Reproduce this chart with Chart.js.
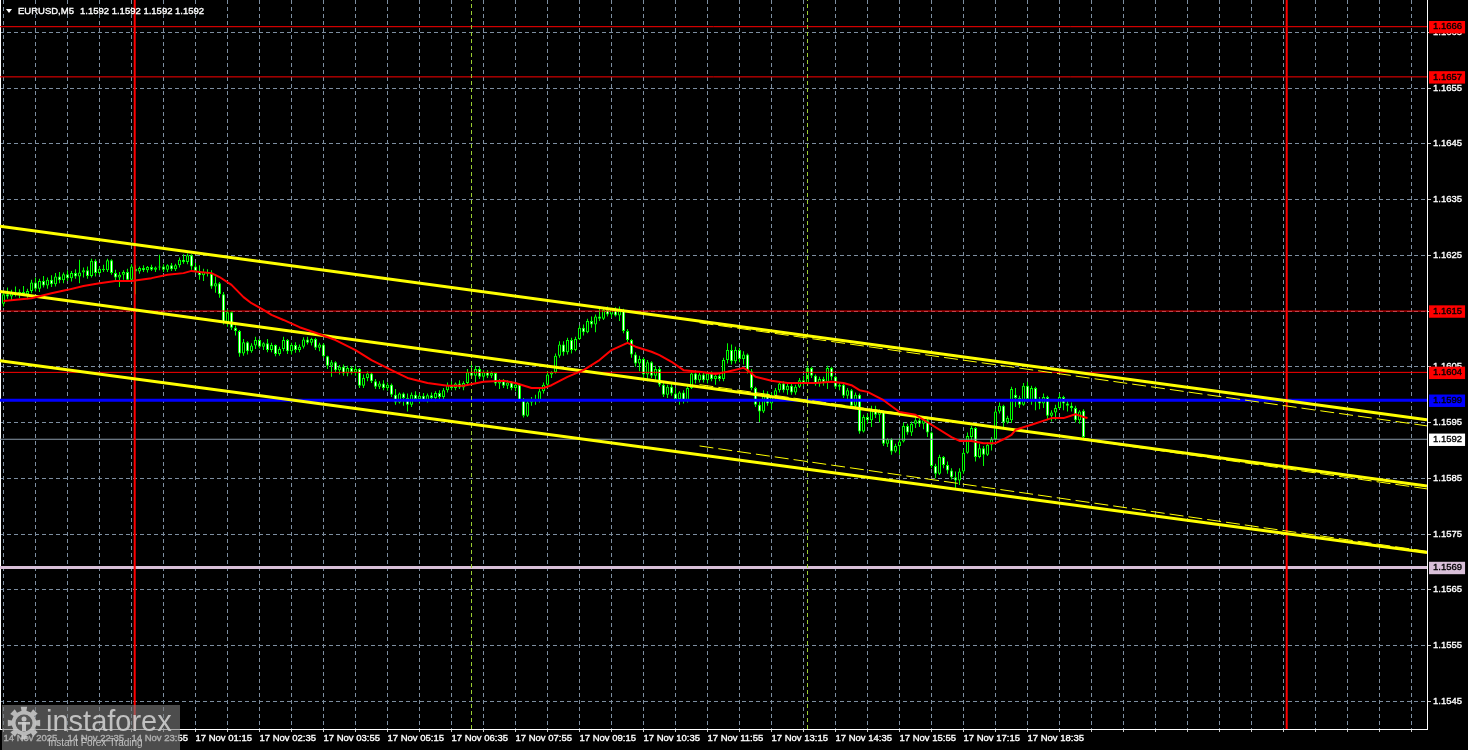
<!DOCTYPE html>
<html>
<head>
<meta charset="utf-8">
<style>html,body{margin:0;padding:0;background:#000;overflow:hidden}canvas{display:block}</style>
<script src="https://cdn.jsdelivr.net/npm/chart.js@4.4.1/dist/chart.umd.min.js"></script>
</head>
<body>
<canvas id="c" width="1468" height="750"></canvas>
<script>
// ---------------- data ----------------
const symbolTitle = "EURUSD,M5";
const lastQuote = ["1.1592", "1.1592", "1.1592", "1.1592"];

const xTickLabels = ["14 Nov 2025", "14 Nov 22:35", "14 Nov 23:55", "17 Nov 01:15", "17 Nov 02:35",
  "17 Nov 03:55", "17 Nov 05:15", "17 Nov 06:35", "17 Nov 07:55", "17 Nov 09:15", "17 Nov 10:35",
  "17 Nov 11:55", "17 Nov 13:15", "17 Nov 14:35", "17 Nov 15:55", "17 Nov 17:15", "17 Nov 18:35"];

const yTickValues = [1.1545, 1.1555, 1.1565, 1.1575, 1.1585, 1.1595, 1.1605, 1.1615, 1.1625, 1.1635, 1.1645, 1.1655, 1.1665];

const openP = [
1.16163,1.16180,1.16176,1.16183,1.16179,1.16184,1.16180,1.16186,1.16201,1.16190,
1.16204,1.16196,1.16206,1.16198,1.16212,1.16205,1.16216,1.16209,1.16218,1.16212,
1.16219,1.16223,1.16213,1.16240,1.16218,1.16226,1.16223,1.16241,1.16218,1.16210,
1.16215,1.16220,1.16206,1.16226,1.16221,1.16227,1.16223,1.16229,1.16224,1.16228,
1.16230,1.16224,1.16232,1.16225,1.16232,1.16242,1.16238,1.16250,1.16230,1.16222,
1.16214,1.16220,1.16217,1.16194,1.16200,1.16180,1.16130,1.16148,1.16120,1.16114,
1.16074,1.16094,1.16078,1.16088,1.16098,1.16086,1.16092,1.16080,1.16089,1.16073,
1.16082,1.16098,1.16078,1.16089,1.16080,1.16086,1.16099,1.16093,1.16100,1.16084,
1.16090,1.16069,1.16052,1.16058,1.16044,1.16050,1.16038,1.16048,1.16040,1.16046,
1.16016,1.16030,1.16038,1.16024,1.16014,1.16020,1.16012,1.16018,1.16000,1.15986,
1.16002,1.15994,1.15982,1.16000,1.15992,1.15998,1.15990,1.15999,1.15994,1.16003,
1.15996,1.16008,1.16018,1.16012,1.16020,1.16013,1.16021,1.16040,1.16034,1.16046,
1.16032,1.16040,1.16034,1.16039,1.16020,1.16024,1.16016,1.16022,1.16012,1.16018,
1.15990,1.15962,1.15986,1.15992,1.15988,1.16006,1.16018,1.16036,1.16040,1.16070,
1.16090,1.16076,1.16098,1.16080,1.16100,1.16120,1.16112,1.16132,1.16126,1.16140,
1.16136,1.16152,1.16144,1.16153,1.16142,1.16150,1.16114,1.16098,1.16072,1.16056,
1.16064,1.16036,1.16058,1.16034,1.16046,1.16018,1.16000,1.16014,1.16002,1.15992,
1.16004,1.15988,1.16012,1.16038,1.16026,1.16036,1.16026,1.16038,1.16028,1.16034,
1.16028,1.16062,1.16080,1.16060,1.16080,1.16064,1.16072,1.16042,1.16012,1.15982,
1.15970,1.16002,1.15984,1.15998,1.16008,1.16020,1.16008,1.16016,1.16004,1.16014,
1.16026,1.16020,1.16048,1.16034,1.16020,1.16028,1.16022,1.16048,1.16032,1.16014,
1.16018,1.15998,1.16008,1.15980,1.16000,1.15934,1.15960,1.15954,1.15974,1.15964,
1.15970,1.15912,1.15920,1.15898,1.15908,1.15916,1.15944,1.15932,1.15948,1.15954,
1.15948,1.15954,1.15932,1.15872,1.15858,1.15888,1.15874,1.15864,1.15852,1.15846,
1.15862,1.15896,1.15924,1.15940,1.15888,1.15904,1.15892,1.15910,1.15920,1.15970,
1.15980,1.15950,1.15954,1.16000,1.15994,1.15982,1.16016,1.15988,1.16012,1.15990,
1.15984,1.15996,1.15962,1.15968,1.15976,1.15996,1.15984,1.15980,1.15976,1.15954,
1.15971,1.15920];

const highP = [
1.16186,1.16192,1.16188,1.16194,1.16189,1.16195,1.16190,1.16206,1.16210,1.16208,
1.16213,1.16210,1.16214,1.16218,1.16220,1.16219,1.16223,1.16222,1.16225,1.16242,
1.16228,1.16230,1.16244,1.16243,1.16230,1.16233,1.16244,1.16243,1.16224,1.16220,
1.16223,1.16226,1.16234,1.16232,1.16230,1.16232,1.16231,1.16233,1.16230,1.16251,
1.16234,1.16234,1.16236,1.16235,1.16246,1.16252,1.16253,1.16252,1.16236,1.16232,
1.16226,1.16225,1.16223,1.16212,1.16202,1.16184,1.16153,1.16150,1.16124,1.16116,
1.16100,1.16096,1.16092,1.16104,1.16100,1.16094,1.16100,1.16093,1.16090,1.16086,
1.16104,1.16100,1.16093,1.16094,1.16090,1.16103,1.16104,1.16102,1.16102,1.16093,
1.16092,1.16070,1.16062,1.16060,1.16053,1.16054,1.16052,1.16051,1.16052,1.16048,
1.16036,1.16042,1.16040,1.16028,1.16024,1.16026,1.16022,1.16020,1.16010,1.16004,
1.16004,1.16002,1.16004,1.16006,1.16002,1.16003,1.16002,1.16004,1.16006,1.16008,
1.16012,1.16022,1.16024,1.16022,1.16026,1.16024,1.16046,1.16053,1.16052,1.16050,
1.16044,1.16044,1.16042,1.16040,1.16028,1.16028,1.16026,1.16024,1.16022,1.16020,
1.15994,1.15990,1.15996,1.16000,1.16010,1.16022,1.16042,1.16042,1.16074,1.16096,
1.16096,1.16102,1.16102,1.16104,1.16124,1.16126,1.16136,1.16140,1.16144,1.16154,
1.16156,1.16158,1.16156,1.16157,1.16158,1.16154,1.16118,1.16100,1.16076,1.16070,
1.16066,1.16062,1.16060,1.16052,1.16050,1.16022,1.16018,1.16020,1.16012,1.16006,
1.16008,1.16016,1.16042,1.16044,1.16040,1.16040,1.16041,1.16042,1.16038,1.16040,
1.16066,1.16092,1.16090,1.16086,1.16084,1.16078,1.16074,1.16046,1.16014,1.15988,
1.16008,1.16006,1.16004,1.16012,1.16024,1.16024,1.16022,1.16020,1.16018,1.16030,
1.16034,1.16052,1.16050,1.16036,1.16032,1.16032,1.16052,1.16050,1.16034,1.16022,
1.16020,1.16012,1.16010,1.16004,1.16002,1.15964,1.15966,1.15980,1.15980,1.15974,
1.15972,1.15922,1.15922,1.15912,1.15922,1.15950,1.15948,1.15952,1.15958,1.15960,
1.15960,1.15958,1.15934,1.15876,1.15892,1.15890,1.15880,1.15868,1.15862,1.15868,
1.15902,1.15932,1.15944,1.15942,1.15912,1.15908,1.15914,1.15924,1.15974,1.15986,
1.15982,1.15962,1.16014,1.16012,1.15998,1.16021,1.16023,1.16016,1.16014,1.15996,
1.16002,1.15998,1.15972,1.15982,1.16002,1.15998,1.15990,1.15986,1.15980,1.15972,
1.15974,1.15920];

const lowP = [
1.16158,1.16172,1.16170,1.16176,1.16173,1.16178,1.16171,1.16182,1.16185,1.16184,
1.16192,1.16190,1.16193,1.16194,1.16200,1.16200,1.16204,1.16203,1.16208,1.16200,
1.16210,1.16208,1.16210,1.16212,1.16215,1.16220,1.16220,1.16215,1.16204,1.16193,
1.16206,1.16205,1.16202,1.16180,1.16217,1.16220,1.16219,1.16222,1.16220,1.16223,
1.16220,1.16220,1.16222,1.16222,1.16228,1.16235,1.16234,1.16224,1.16218,1.16206,
1.16204,1.16212,1.16190,1.16183,1.16174,1.16126,1.16122,1.16116,1.16106,1.16068,
1.16070,1.16072,1.16075,1.16082,1.16083,1.16080,1.16076,1.16076,1.16069,1.16070,
1.16078,1.16073,1.16072,1.16075,1.16076,1.16083,1.16090,1.16088,1.16080,1.16078,
1.16066,1.16046,1.16032,1.16040,1.16036,1.16034,1.16033,1.16036,1.16034,1.16012,
1.16012,1.16024,1.16021,1.16010,1.16010,1.16008,1.16007,1.15996,1.15982,1.15984,
1.15980,1.15970,1.15978,1.15988,1.15984,1.15988,1.15986,1.15990,1.15988,1.15992,
1.15992,1.16004,1.16008,1.16008,1.16010,1.16008,1.16016,1.16030,1.16022,1.16028,
1.16026,1.16030,1.16030,1.16016,1.16010,1.16012,1.16010,1.16008,1.16006,1.15988,
1.15959,1.15960,1.15980,1.15982,1.15986,1.16002,1.16016,1.16030,1.16038,1.16066,
1.16070,1.16072,1.16074,1.16078,1.16098,1.16106,1.16110,1.16120,1.16112,1.16132,
1.16134,1.16140,1.16138,1.16140,1.16132,1.16110,1.16094,1.16066,1.16050,1.16042,
1.16030,1.16024,1.16030,1.16026,1.16014,1.15996,1.15994,1.15998,1.15988,1.15982,
1.15984,1.15986,1.16010,1.16020,1.16022,1.16022,1.16020,1.16024,1.16018,1.16024,
1.16024,1.16056,1.16054,1.16056,1.16058,1.16054,1.16038,1.16008,1.15978,1.15951,
1.15967,1.15980,1.15974,1.15992,1.16004,1.16004,1.16000,1.16000,1.16000,1.16012,
1.16016,1.16018,1.16030,1.16016,1.16014,1.16016,1.16010,1.16026,1.16010,1.16008,
1.15994,1.15990,1.15976,1.15974,1.15930,1.15932,1.15948,1.15942,1.15958,1.15950,
1.15908,1.15906,1.15892,1.15896,1.15892,1.15914,1.15928,1.15926,1.15940,1.15942,
1.15938,1.15924,1.15868,1.15850,1.15856,1.15868,1.15858,1.15848,1.15832,1.15838,
1.15858,1.15894,1.15918,1.15880,1.15886,1.15872,1.15890,1.15900,1.15918,1.15966,
1.15942,1.15948,1.15949,1.15978,1.15976,1.15980,1.15988,1.15982,1.15972,1.15974,
1.15976,1.15954,1.15952,1.15954,1.15974,1.15972,1.15970,1.15970,1.15950,1.15948,
1.15921,1.15920];

const closeP = [
1.16180,1.16176,1.16183,1.16179,1.16184,1.16180,1.16186,1.16201,1.16190,1.16204,
1.16196,1.16206,1.16198,1.16212,1.16205,1.16216,1.16209,1.16218,1.16212,1.16219,
1.16223,1.16213,1.16240,1.16218,1.16226,1.16223,1.16241,1.16218,1.16210,1.16215,
1.16220,1.16206,1.16230,1.16221,1.16227,1.16223,1.16229,1.16224,1.16228,1.16230,
1.16224,1.16232,1.16225,1.16232,1.16242,1.16238,1.16250,1.16230,1.16222,1.16214,
1.16220,1.16217,1.16194,1.16200,1.16180,1.16130,1.16148,1.16120,1.16114,1.16074,
1.16094,1.16078,1.16088,1.16098,1.16086,1.16092,1.16080,1.16089,1.16073,1.16082,
1.16098,1.16078,1.16089,1.16080,1.16086,1.16099,1.16093,1.16100,1.16084,1.16090,
1.16069,1.16052,1.16058,1.16044,1.16050,1.16038,1.16048,1.16040,1.16046,1.16016,
1.16030,1.16038,1.16024,1.16014,1.16020,1.16012,1.16018,1.16000,1.15986,1.16002,
1.15994,1.15982,1.16000,1.15992,1.15998,1.15990,1.15999,1.15994,1.16003,1.15996,
1.16008,1.16018,1.16012,1.16020,1.16013,1.16021,1.16040,1.16034,1.16046,1.16032,
1.16040,1.16034,1.16039,1.16020,1.16024,1.16016,1.16022,1.16012,1.16018,1.15990,
1.15962,1.15986,1.15992,1.15988,1.16006,1.16018,1.16036,1.16040,1.16070,1.16090,
1.16076,1.16098,1.16080,1.16100,1.16120,1.16112,1.16132,1.16126,1.16140,1.16136,
1.16152,1.16144,1.16153,1.16142,1.16150,1.16114,1.16098,1.16072,1.16056,1.16064,
1.16036,1.16058,1.16034,1.16046,1.16018,1.16000,1.16014,1.16002,1.15992,1.16004,
1.15988,1.16012,1.16038,1.16026,1.16036,1.16026,1.16038,1.16028,1.16034,1.16028,
1.16062,1.16080,1.16060,1.16080,1.16064,1.16072,1.16042,1.16012,1.15982,1.15970,
1.16002,1.15984,1.15998,1.16008,1.16020,1.16008,1.16016,1.16004,1.16014,1.16026,
1.16020,1.16048,1.16034,1.16020,1.16028,1.16022,1.16048,1.16032,1.16014,1.16018,
1.15998,1.16008,1.15980,1.16000,1.15934,1.15960,1.15954,1.15974,1.15964,1.15970,
1.15912,1.15920,1.15898,1.15908,1.15916,1.15944,1.15932,1.15948,1.15954,1.15948,
1.15954,1.15932,1.15872,1.15858,1.15888,1.15874,1.15864,1.15852,1.15846,1.15862,
1.15896,1.15926,1.15940,1.15888,1.15904,1.15892,1.15910,1.15920,1.15970,1.15980,
1.15950,1.15958,1.16010,1.15994,1.15982,1.16016,1.15992,1.16012,1.15990,1.15984,
1.15996,1.15962,1.15968,1.15976,1.15996,1.15984,1.15980,1.15976,1.15954,1.15970,
1.15924,1.15920];

// moving average (bar index, value)
const maIdx = [0,7,12,16,20,24,28,32,37,41,45,47,49,52,54,57,60,62,65,67,70,74,78,83,88,92,97,101,106,111,115,
  120,125,128,132,135,137,141,145,149,152,156,158,162,164,167,170,174,178,181,185,186,188,192,196,199,203,207,
  210,212,214,216,220,224,228,232,237,239,242,245,248,250,252,253,257,262,265,268,270,271];
const maVal = [1.16168,1.16173,1.16182,1.16188,1.16195,1.16200,1.16204,1.16204,1.16209,1.16215,1.16218,1.16222,
  1.16220,1.16218,1.16211,1.16197,1.16175,1.16164,1.16152,1.16143,1.16134,1.16121,1.16111,1.16098,1.16080,
  1.16062,1.16044,1.16030,1.16021,1.16016,1.16016,1.16023,1.16025,1.16021,1.16012,1.16012,1.16017,1.16032,
  1.16044,1.16062,1.16080,1.16093,1.16086,1.16077,1.16071,1.16059,1.16044,1.16041,1.16037,1.16041,1.16048,
  1.16044,1.16032,1.16025,1.16021,1.16021,1.16021,1.16023,1.16021,1.16017,1.16008,1.16005,1.15990,1.15969,
  1.15964,1.15946,1.15924,1.15917,1.15917,1.15913,1.15913,1.15920,1.15928,1.15937,1.15946,1.15958,1.15958,
  1.15965,1.15960,1.15958];

// horizontal levels (prices)
const levelPrices = [1.1666, 1.1657, 1.1615, 1.1604, 1.1599, 1.1592, 1.1569];
// vertical markers (bar index)
const vlineIdx = [32.8, 320.8];
const sepIdx = [117, 201];
// trend channel (bar index ends, prices)
const chanIdx = [-0.875, 355.875];
const chanUpper = [1.16302, 1.15955];
const chanMiddle = [1.16185, 1.15836];
const chanLower = [1.16061, 1.15717];
// regression channel (thin, dashed)
const regIdx = [174, 355.875];
const regUpper = [1.16129, 1.15944];
const regMiddle = [1.16018, 1.15831];
const regLower = [1.15908, 1.15719];

// ---------------- styles / layout ----------------
const FONT = '"Liberation Sans", Arial, sans-serif';
const X_MIN = -0.875, X_MAX = 355.875;
const Y_MIN = 1.154003, Y_MAX = 1.167079;
const GRID = '#7d8ea0';
const LIME = '#00ff00';
const levelStyles = [
  {line: '#ff0000', w: 1, bg: '#ff0000', fg: '#000000'},
  {line: '#ff0000', w: 1, bg: '#ff0000', fg: '#000000'},
  {line: '#ff0000', w: 1, bg: '#ff0000', fg: '#000000'},
  {line: '#ff0000', w: 1, bg: '#ff0000', fg: '#000000'},
  {line: '#0000ff', w: 3, bg: '#0000ff', fg: '#000000'},
  {line: '#8a9aaa', w: 1, bg: '#ffffff', fg: '#000000'},
  {line: '#d8bfd8', w: 3, bg: '#d8bfd8', fg: '#000000'}
];

function seg(xs, ys, color, width, dash, order) {
  return {
    type: 'line', data: xs.map((x, k) => ({x: x, y: ys[k]})),
    borderColor: color, borderWidth: width, borderDash: dash || [],
    pointRadius: 0, pointHoverRadius: 0, fill: false, tension: 0, order: order,
    borderCapStyle: 'butt'
  };
}

const datasets = [];
datasets.push({
  type: 'bar', label: 'wick', order: 50,
  data: highP.map((h, i) => ({x: i, y: [lowP[i], h]})),
  backgroundColor: LIME, borderWidth: 0, barThickness: 1, grouped: false, inflateAmount: 0, minBarLength: 1
});
datasets.push({
  type: 'bar', label: 'body', order: 49,
  data: openP.map((o, i) => ({x: i, y: [o, closeP[i]]})),
  backgroundColor: openP.map((o, i) => closeP[i] >= o ? '#000000' : '#ffffff'),
  borderColor: LIME, borderWidth: 1, borderSkipped: false,
  barThickness: 3, grouped: false, inflateAmount: 0, minBarLength: 1
});
levelPrices.forEach((p, k) => {
  const s = levelStyles[k];
  datasets.push(seg([X_MIN, X_MAX], [p, p], s.line, s.w, null, 12));
});
vlineIdx.forEach(v => datasets.push(seg([v, v], [Y_MIN, Y_MAX], '#ff0000', 2, null, 11)));
sepIdx.forEach(v => datasets.push(seg([v, v], [Y_MIN, Y_MAX], '#9acd32', 1, [4, 3], 11)));
[chanUpper, chanMiddle, chanLower].forEach(c => datasets.push(seg(chanIdx, c, '#ffff00', 3, null, 8)));
[regUpper, regMiddle, regLower].forEach(c => datasets.push(seg(regIdx, c, '#ffff00', 1, [14, 5], 7)));
datasets.push(Object.assign(seg(maIdx, maVal, '#ff0000', 2, null, 1), {borderJoinStyle: 'round'}));

const isLvl = c => c && c.tick && c.tick.lvl !== undefined;

const overlay = {
  id: 'overlay',
  beforeDraw(chart) {
    const ctx = chart.ctx;
    ctx.save(); ctx.fillStyle = '#000'; ctx.fillRect(0, 0, chart.width, chart.height); ctx.restore();
  },
  afterDraw(chart) {
    const ctx = chart.ctx;
    ctx.save();
    // header
    ctx.fillStyle = '#ffffff';
    ctx.strokeStyle = '#ffffff';
    ctx.lineWidth = 0.35;
    ctx.beginPath(); ctx.moveTo(6, 9); ctx.lineTo(12, 9); ctx.lineTo(9, 13); ctx.closePath(); ctx.fill();
    ctx.font = '9.5px ' + FONT; ctx.textBaseline = 'middle'; ctx.textAlign = 'left';
    ctx.fillText(symbolTitle, 18, 11); ctx.strokeText(symbolTitle, 18, 11);
    const q = lastQuote.join(' ');
    ctx.fillText(q, 80, 11); ctx.strokeText(q, 80, 11);
    // watermark
    ctx.fillStyle = 'rgba(125,125,125,0.62)';
    ctx.fillRect(2, 705, 178, 45);
    const cx = 24, cy = 723;
    ctx.fillStyle = 'rgba(205,205,205,0.85)';
    ctx.beginPath();
    const teeth = 8;
    for (let k = 0; k < teeth * 2; k++) {
      const a0 = (k / (teeth * 2)) * Math.PI * 2 - 0.2, a1 = ((k + 1) / (teeth * 2)) * Math.PI * 2 - 0.2;
      const r = k % 2 === 0 ? 16.5 : 12.5;
      ctx.lineTo(cx + r * Math.cos(a0), cy + r * Math.sin(a0));
      ctx.lineTo(cx + r * Math.cos(a1), cy + r * Math.sin(a1));
    }
    ctx.closePath(); ctx.fill();
    ctx.fillStyle = 'rgb(88,88,88)';
    ctx.beginPath(); ctx.arc(cx, cy, 8.5, 0, Math.PI * 2); ctx.fill();
    ctx.fillStyle = 'rgba(205,205,205,0.9)';
    ctx.beginPath(); ctx.arc(cx, cy - 4, 2.5, 0, Math.PI * 2); ctx.fill();
    ctx.fillRect(cx - 2, cy - 1, 4, 9);
    ctx.fillRect(cx - 6, cy - 1, 12, 2.5);
    ctx.fillStyle = 'rgba(205,205,205,0.9)';
    ctx.textBaseline = 'alphabetic';
    ctx.font = '29px ' + FONT;
    ctx.fillText('instaforex', 46, 731);
    ctx.font = '10px ' + FONT;
    ctx.fillText('Instant Forex Trading', 48, 746);
    ctx.restore();
  }
};

new Chart(document.getElementById('c'), {
  type: 'bar',
  data: {datasets: datasets},
  plugins: [overlay],
  options: {
    responsive: false, animation: false, devicePixelRatio: 1, events: [],
    layout: {padding: 0},
    plugins: {legend: {display: false}, tooltip: {enabled: false}, title: {display: false}},
    scales: {
      x: {
        type: 'linear', position: 'bottom', min: X_MIN, max: X_MAX, offset: false, bounds: 'data',
        afterBuildTicks: s => { const t = []; for (let v = 0; v <= 352; v += 8) t.push({value: v}); s.ticks = t; },
        afterFit: s => { s.height = 21; s.paddingLeft = 0; s.paddingRight = 0; },
        grid: {color: GRID, lineWidth: 1, tickColor: '#c8c8c8', tickLength: 3, offset: false, drawOnChartArea: true},
        border: {display: true, color: '#ffffff', width: 1, dash: [4, 3]},
        ticks: {
          autoSkip: false, maxRotation: 0, minRotation: 0, align: 'start', padding: 1, color: '#ffffff',
          textStrokeColor: '#ffffff', textStrokeWidth: 0.35,
          font: {family: FONT, size: 9.5},
          callback: v => (v % 16 === 0 && v / 16 < xTickLabels.length) ? xTickLabels[v / 16] : ''
        }
      },
      y: {
        type: 'linear', position: 'right', min: Y_MIN, max: Y_MAX, bounds: 'data',
        afterBuildTicks: s => {
          s.ticks = yTickValues.map(v => ({value: v})).concat(levelPrices.map((v, k) => ({value: v, lvl: k})));
        },
        afterFit: s => { s.width = 41; s.paddingTop = 0; s.paddingBottom = 0; },
        grid: {
          color: c => isLvl(c) ? 'rgba(0,0,0,0)' : GRID,
          tickColor: c => isLvl(c) ? 'rgba(0,0,0,0)' : '#c8c8c8',
          lineWidth: 1, tickLength: 4, drawOnChartArea: true
        },
        border: {display: true, color: '#ffffff', width: 1, dash: [4, 3]},
        ticks: {
          autoSkip: false, padding: 2, font: {family: FONT, size: 9.5},
          color: c => isLvl(c) ? levelStyles[c.tick.lvl].fg : '#ffffff',
          textStrokeColor: c => isLvl(c) ? levelStyles[c.tick.lvl].fg : '#ffffff',
          textStrokeWidth: 0.35,
          showLabelBackdrop: c => isLvl(c),
          backdropColor: c => isLvl(c) ? levelStyles[c.tick.lvl].bg : 'rgba(0,0,0,0)',
          backdropPadding: {left: 4, right: 3, top: 0, bottom: 1},
          callback: v => Number(v).toFixed(4)
        }
      },
      yl: {
        type: 'linear', position: 'left', display: true,
        afterFit: s => { s.width = 0; s.paddingTop = 0; s.paddingBottom = 0; },
        grid: {display: false, drawOnChartArea: false, drawTicks: false},
        ticks: {display: false},
        border: {display: true, color: '#ffffff', width: 1}
      }
    }
  }
});
</script>
</body>
</html>
